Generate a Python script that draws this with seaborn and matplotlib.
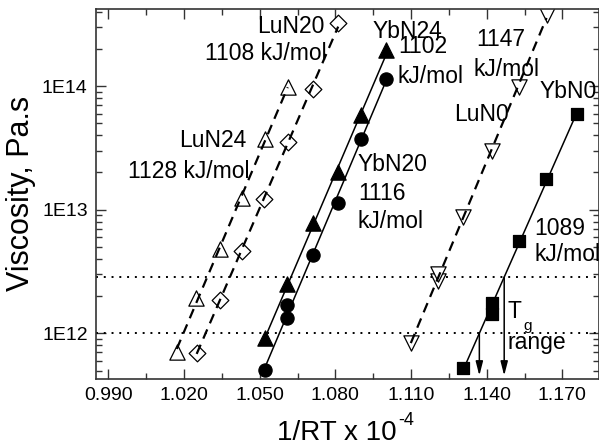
import numpy as np
import pandas as pd
import seaborn as sns
import matplotlib
matplotlib.use('Agg')
import matplotlib.pyplot as plt
from matplotlib.ticker import MultipleLocator, LogLocator, FuncFormatter, NullFormatter

# values (x = 1/RT x 1e-4, y = viscosity in Pa.s)
lu24_x = [1.0171, 1.0247, 1.0342, 1.0428, 1.0521, 1.0611]
lu24_y = [7.1e11, 1.92e12, 4.79e12, 1.24e13, 3.71e13, 9.75e13]
lu20_x = [1.0250, 1.0342, 1.0428, 1.0518, 1.0611, 1.0710, 1.0811]
lu20_y = [6.98e11, 1.86e12, 4.67e12, 1.21e13, 3.55e13, 9.4e13, 3.21e14]
yb24_x = [1.0521, 1.0608, 1.0712, 1.0811, 1.0902, 1.1002]
yb24_y = [9.2e11, 2.49e12, 7.76e12, 2.0e13, 5.83e13, 1.95e14]
yb20_x = [1.0521, 1.0608, 1.0608, 1.0710, 1.0810, 1.0901, 1.1000]
yb20_y = [5.01e11, 1.33e12, 1.70e12, 4.31e12, 1.13e13, 3.71e13, 1.15e14]
lu0_x = [1.1099, 1.1207, 1.1207, 1.1306, 1.1419, 1.1528, 1.1637]
lu0_y = [8.32e11, 2.65e12, 3.02e12, 8.77e12, 3.0e13, 9.76e13, 3.75e14]
yb0_x = [1.1306, 1.1419, 1.1419, 1.1528, 1.1636, 1.1759]
yb0_y = [5.28e11, 1.42e12, 1.75e12, 5.6e12, 1.77e13, 6.0e13]

tg_levels = [1e12, 2.85e12]

sns.set_theme(style='ticks')
plt.rcParams['font.family'] = ['Liberation Sans', 'DejaVu Sans']

fig = plt.figure(figsize=(5.99, 4.46), dpi=100)
ax = fig.add_axes([0.1603, 0.1502, 0.8397, 0.8307])

# name, x, y, marker, size, face, line style
series = [
    ('LuN24', lu24_x, lu24_y, '^', 11, 'white', (0, (4.5, 3))),
    ('LuN20', lu20_x, lu20_y, 'D', 8.5, 'white', (0, (4.5, 3))),
    ('YbN24', yb24_x, yb24_y, '^', 11, 'black', '-'),
    ('YbN20', yb20_x, yb20_y, 'o', 9.5, 'black', '-'),
    ('LuN0', lu0_x, lu0_y, 'v', 11, 'white', (0, (4.5, 3))),
    ('YbN0', yb0_x, yb0_y, 's', 8.5, 'black', '-'),
]

fits = {}
for name, xs, ys, mk, ms, fc, ls in series:
    df = pd.DataFrame({'x': xs, 'y': ys})
    sns.scatterplot(data=df, x='x', y='y', marker=mk, s=ms**2, color=fc,
                    edgecolor='black', linewidth=0.9, ax=ax, zorder=2, legend=False)
    m, b = np.polyfit(df.x, np.log10(df.y), 1)
    fits[name] = (m, b)
    xx = np.linspace(df.x.min(), df.x.max(), 50)
    lw = 1.6 if ls != '-' else 1.1
    ax.plot(xx, 10**(m*xx + b), color='black', lw=lw, linestyle=ls, zorder=3)

ax.set_yscale('log')
ax.set_xlim(0.9851, 1.1845)
ax.set_ylim(4.27e11, 4.24e14)

# Tg range lines and arrows
m, b = fits['YbN0']
for lev in tg_levels:
    ax.axhline(lev, color='black', lw=1.4, linestyle=(0, (1, 3)), zorder=1)
    xa = (np.log10(lev) - b) / m
    ax.annotate('', xy=(xa, 4.55e11), xytext=(xa, lev),
                arrowprops=dict(arrowstyle='-|>,head_length=0.7,head_width=0.18',
                                color='black', lw=1.1, shrinkA=0, shrinkB=0))

fs = 16.5
labels = [
    ('LuN20', 1.0758, 3.05e14, 'right'),
    ('1108 kJ/mol', 1.0766, 1.84e14, 'right'),
    ('LuN24', 1.0449, 3.66e13, 'right'),
    ('1128 kJ/mol', 1.0461, 2.02e13, 'right'),
    ('YbN24', 1.0947, 2.75e14, 'left'),
    ('1102', 1.1051, 2.08e14, 'left'),
    ('kJ/mol', 1.1046, 1.19e14, 'left'),
    ('YbN20', 1.0889, 2.3e13, 'left'),
    ('1116', 1.0889, 1.36e13, 'left'),
    ('kJ/mol', 1.0889, 8.0e12, 'left'),
    ('1147', 1.1357, 2.36e14, 'left'),
    ('kJ/mol', 1.1349, 1.36e14, 'left'),
    ('LuN0', 1.1269, 5.94e13, 'left'),
    ('YbN0', 1.1610, 9.0e13, 'left'),
    ('1089', 1.1590, 7.08e12, 'left'),
    ('kJ/mol', 1.1590, 4.31e12, 'left'),
    ('T', 1.1483, 1.5e12, 'left'),
    ('range', 1.1483, 8.36e11, 'left'),
]
for txt, x, y, ha in labels:
    ax.text(x, y, txt, ha=ha, va='center', fontsize=fs, color='black', zorder=4)
ax.text(1.1547, 1.15e12, 'g', ha='left', va='center', fontsize=11, color='black')

# axes styling
ax.xaxis.set_major_locator(MultipleLocator(0.03))
ax.xaxis.set_minor_locator(MultipleLocator(0.015))
ax.xaxis.set_major_formatter(FuncFormatter(lambda v, p: f'{v:.3f}'))
ax.yaxis.set_major_locator(LogLocator(base=10))
ax.yaxis.set_minor_locator(LogLocator(base=10, subs=np.arange(2, 10)))
ax.yaxis.set_major_formatter(FuncFormatter(lambda v, p: '1E%d' % round(np.log10(v))))
ax.yaxis.set_minor_formatter(NullFormatter())
ax.tick_params(which='both', direction='in', top=True, right=True, color='#333333',
               labelsize=14, labelcolor='black')
ax.tick_params(which='major', length=7, width=1, pad=6)
ax.tick_params(which='minor', length=4, width=1)
for sp in ax.spines.values():
    sp.set_color('#333333')
    sp.set_linewidth(1.2)

ax.set_xlabel('')
ax.set_ylabel('Viscosity, Pa.s', fontsize=22, color='black', labelpad=4)
# x label with a plain hyphen superscript, as in the original
fig.text(0.462, 0.0135, '1/RT x 10', fontsize=20, color='black', ha='left', va='baseline')
fig.text(0.6645, 0.047, '-4', fontsize=13, color='black', ha='left', va='baseline')

fig.savefig('out.png', dpi=100)
